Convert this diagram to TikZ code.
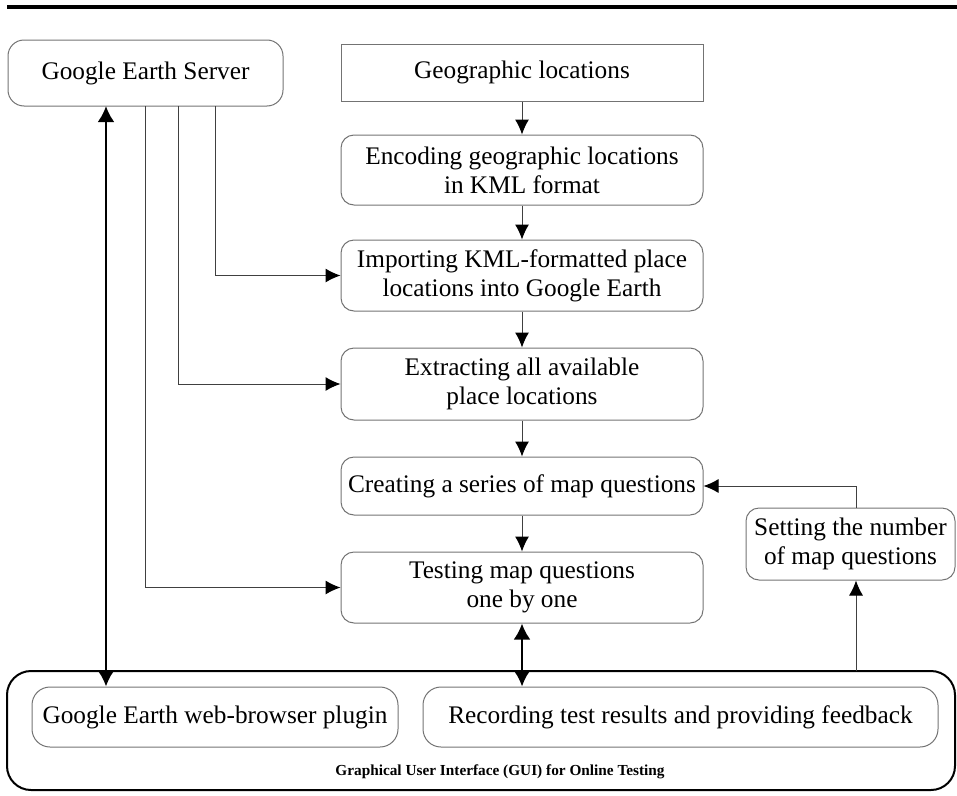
\documentclass[tikz,border=0pt]{standalone}
\usepackage{fontspec}
\setmainfont{Liberation Serif}
\usetikzlibrary{arrows.meta}

\begin{document}
\begin{tikzpicture}[x=1pt, y=-1pt,
	every node/.style={draw=black!55, line width=1pt, align=center, inner sep=0pt, font=\fontsize{25.3}{29}\selectfont},
	stepbox/.style={rounded corners=13pt, minimum width=362pt},
	thinarr/.style={draw=black!75, line width=1pt, -{Latex[length=15pt,width=14pt,color=black]}},
	thickarr/.style={draw=black, line width=2.6pt, {Latex[length=16pt,width=17pt]}-{Latex[length=16pt,width=17pt]}}]
				\useasboundingbox (0,0) rectangle (957,795);
				\draw[line width=3.5pt] (7,7) -- (957,7);
				
				\node[rounded corners=16pt, minimum width=275pt, minimum height=66pt] (srv) at (145.5,73){Google Earth Server};
				\node[minimum width=362pt, minimum height=57pt] (geo) at (522,72.5){Geographic locations};
				\node[stepbox, minimum height=70pt] (enc) at (522,170){Encoding geographic locations\\in KML format};
				\node[stepbox, minimum height=71pt] (imp) at (522,275.5){Importing KML-formatted place\\locations into Google Earth};
				\node[stepbox, minimum height=72pt] (ext) at (522,384){Extracting all available\\place locations};
				\node[stepbox, minimum height=58pt] (cre) at (522,486){Creating a series of map questions};
				\node[stepbox, minimum height=71pt] (tst) at (522,587.5){Testing map questions\\one by one};
				\node[rounded corners=13pt, minimum width=209pt, minimum height=72pt] (set) at (850.5,544){Setting the number\\of map questions};
				
				\node[draw=black, line width=2pt, rounded corners=24pt, minimum width=948pt, minimum height=119pt] (gui) at (481,730.5){};
				\node[rounded corners=18pt, minimum width=366pt, minimum height=60pt] (plug) at (215,717){Google Earth web-browser plugin};
				\node[rounded corners=18pt, minimum width=515pt, minimum height=60pt] (rec) at (680.5,717){Recording test results and providing feedback};
				\node[draw=none, font=\fontsize{15.3}{18}\selectfont\bfseries] (guitext) at (500,772){Graphical User Interface (GUI) for Online Testing};
				
				\coordinate (s0) at (106,106);
				\coordinate (s1) at (145,106);
				\coordinate (s2) at (178,106);
				\coordinate (s3) at (215,106);
				\coordinate (g1) at (856,671);
				
				\path[thinarr] (geo) edge (enc);
				\path[thinarr] (enc) edge (imp);
				\path[thinarr] (imp) edge (ext);
				\path[thinarr] (ext) edge (cre);
				\path[thinarr] (cre) edge (tst);
				\draw[thinarr] (s3) |- (imp.west);
				\draw[thinarr] (s2) |- (ext.west);
				\draw[thinarr] (s1) |- (tst.west);
				\draw[thinarr] ([xshift=6pt]set.north) |- (cre.east);
				\draw[thinarr] (g1) -- (g1 |- set.south);
				\draw[thickarr] (s0) -- (s0 |- plug.north);
				\draw[thickarr] (tst.south) -- (tst.south |- rec.north);
				\end{tikzpicture}
\end{document}
